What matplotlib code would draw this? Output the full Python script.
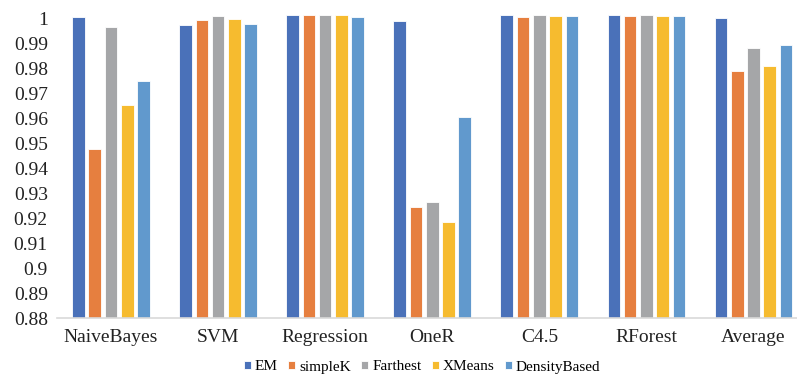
import matplotlib
matplotlib.use("Agg")
import matplotlib.pyplot as plt
import numpy as np

categories = ["NaiveBayes", "SVM", "Regression", "OneR", "C4.5", "RForest", "Average"]
series_names = ["EM", "simpleK", "Farthest", "XMeans", "DensityBased"]
em = [1.0004, 0.9972, 1.0014, 0.9989, 1.0014, 1.0014, 1.0001]
simplek = [0.9476, 0.9993, 1.0014, 0.9244, 1.0005, 1.0009, 0.9789]
farthest = [0.9966, 1.0009, 1.0014, 0.9264, 1.0014, 1.0014, 0.9880]
xmeans = [0.9653, 0.9996, 1.0014, 0.9184, 1.0009, 1.0009, 0.9809]
density = [0.9749, 0.9977, 1.0004, 0.9604, 1.0009, 1.0009, 0.9892]
series = [em, simplek, farthest, xmeans, density]
colors = ["#4a71b9", "#e67f3f", "#a5a6a8", "#f6bb2f", "#6199cd"]
yticks = [0.88, 0.89, 0.9, 0.91, 0.92, 0.93, 0.94, 0.95, 0.96, 0.97, 0.98, 0.99, 1]
ytick_labels = ["0.88", "0.89", "0.9", "0.91", "0.92", "0.93", "0.94", "0.95",
                "0.96", "0.97", "0.98", "0.99", "1"]

plt.rcParams['font.family'] = ['Liberation Serif', 'DejaVu Serif']

fig = plt.figure(figsize=(7.97, 3.78), dpi=100)
W, H = 797, 378
left, right = 57.5, 807.0
ymax = 1.0016
bottom = 318.3
top = 18.3 - (ymax - 1.0) * 2500
ax = fig.add_axes([left / W, 1 - bottom / H, (right - left) / W, (bottom - top) / H])

x = np.arange(len(categories))
pitch = 0.152
bw = 0.118
for i, (name, vals, c) in enumerate(zip(series_names, series, colors)):
    ax.bar(x + (i - 2) * pitch, vals, width=bw, color=c, label=name,
           edgecolor="white", linewidth=0.6, zorder=2)

ax.set_ylim(0.88, ymax)
ax.set_xlim(-0.5, len(categories) - 0.5)
ax.set_yticks(yticks)
ax.set_yticklabels(ytick_labels, fontsize=14, color="#222222")
ax.set_xticks(x)
ax.set_xticklabels(categories, fontsize=14, color="#222222")
ax.tick_params(axis="both", length=0)
ax.tick_params(axis="y", pad=7)
ax.tick_params(axis="x", pad=8)
for s in ["top", "right", "left"]:
    ax.spines[s].set_visible(False)
ax.spines["bottom"].set_color("#d9d9d9")
ax.spines["bottom"].set_linewidth(1.2)

handles, labels = ax.get_legend_handles_labels()
fig.legend(handles, labels, loc="center", bbox_to_anchor=(422 / W, 1 - 367 / H),
           ncol=5, frameon=False, fontsize=11, handlelength=0.45, handleheight=0.45,
           handletextpad=0.25, columnspacing=0.7, borderpad=0)

fig.savefig("out.png", dpi=100)
